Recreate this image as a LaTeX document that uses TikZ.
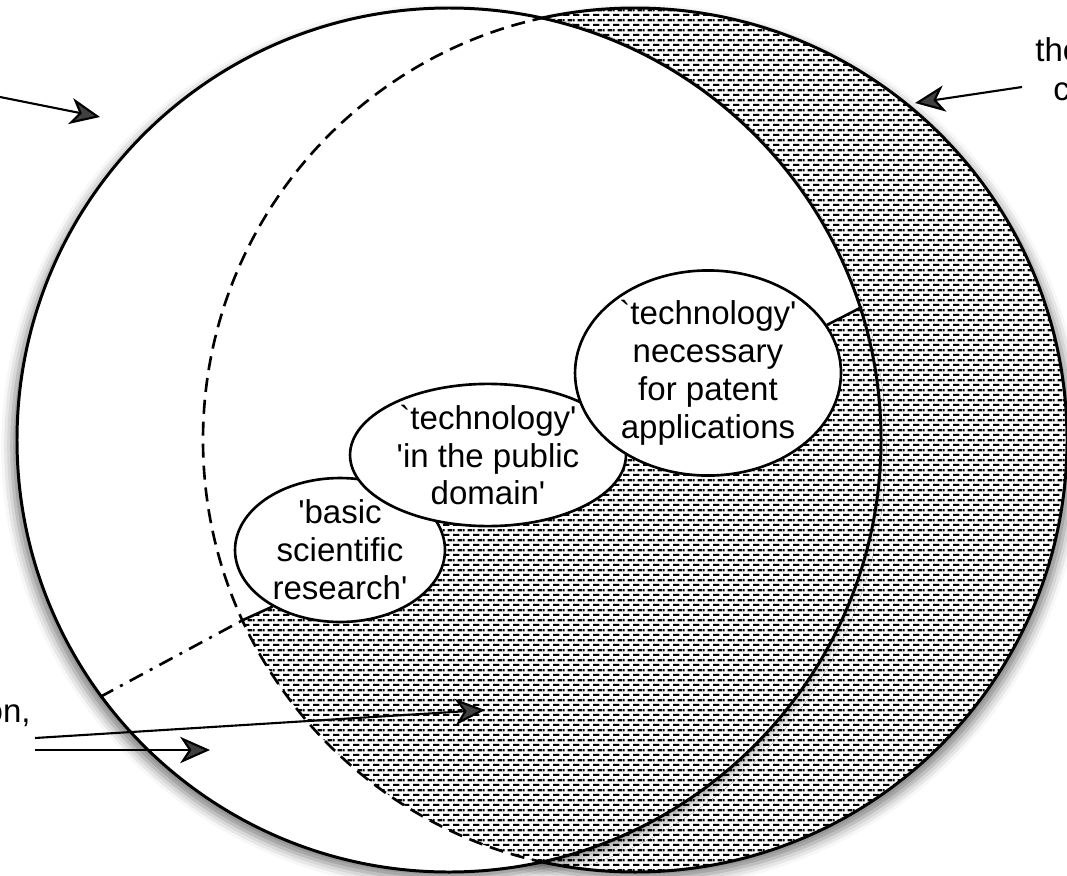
\documentclass[tikz,border=0pt]{standalone}
\usepackage{fontspec}
\setmainfont{Liberation Sans}
\usetikzlibrary{arrows.meta, shapes.geometric, patterns, shadows, shadows.blur}

% trama a mattoni di trattini
\pgfdeclarepatternformonly{dashbricks}{\pgfpointorigin}{\pgfqpoint{5.8pt}{5.8pt}}{\pgfqpoint{5.8pt}{5.8pt}}{
  \pgfpathrectangle{\pgfqpoint{0pt}{0pt}}{\pgfqpoint{3.9pt}{1.35pt}}
  \pgfpathrectangle{\pgfqpoint{2.9pt}{2.9pt}}{\pgfqpoint{2.9pt}{1.35pt}}
  \pgfpathrectangle{\pgfqpoint{0pt}{2.9pt}}{\pgfqpoint{1.0pt}{1.35pt}}
  \pgfusepath{fill}
}

\newcommand{\bq}{\textasciigrave}
\newcommand{\sq}{\textquotesingle}

\tikzset{
  lbl/.style={font=\fontsize{18.8pt}{21.6pt}\selectfont, inner sep=0pt},
  idea/.style={lbl, ellipse, draw, fill=white, line width=1.5pt, align=center},
  pointer/.style={line width=1.2pt, -{Stealth[length=17pt,width=15pt,inset=5pt]}},
  region/.style={line width=1.7pt},
  hidden/.style={line width=1.5pt, dash pattern=on 8pt off 4.5pt},
  dashdot/.style={line width=1.5pt, dash pattern=on 8.5pt off 4.5pt on 1.7pt off 4.5pt},
  softshadow/.style={blur shadow={shadow xshift=#1, shadow yshift=-4pt, shadow blur radius=6pt, shadow opacity=50}}
}

\begin{document}
\begin{tikzpicture}[x=0.02cm, y=-0.02cm]
  \useasboundingbox (0,0) rectangle (1067,875);
  \coordinate (actr) at (449,440);
  \coordinate (bctr) at (635,440);

  % --- cerchio di destra, tutto tratteggiato ---
  \fill[white, softshadow=3pt] (bctr) circle (432);
  \draw[region, pattern=dashbricks] (bctr) circle (432);

  % --- cerchio di sinistra, bianco ---
  \fill[white, softshadow=-3pt] (actr) circle (432);

  % --- parte tratteggiata dentro il cerchio di sinistra ---
  \begin{scope}
    \clip (actr) circle (432);
    \clip (150,675) -- (243,620) -- (273,606) -- (340,550) -- (488,455) -- (708,373)
      -- (830,325) -- (862,307) -- (1100,307) -- (1100,900) -- (150,900) -- cycle;
    \fill[pattern=dashbricks] (bctr) circle (432);
  \end{scope}

  % --- bordo nascosto del cerchio di destra ---
  \begin{scope}
    \clip (actr) circle (432);
    \draw[hidden] (bctr) circle (432);
  \end{scope}
  \draw[region] (actr) circle (432);

  % --- ellissi ---
  \node[idea, minimum width=4.2cm, minimum height=2.88cm] (basic) at (340,550)
    {\sq basic\\scientific\\research\sq};
  \node[idea, minimum width=5.52cm, minimum height=2.8cm] (public) at (488,455)
    {\bq technology\sq\\\sq in the public\\domain\sq};
  \node[idea, minimum width=5.32cm, minimum height=3.8cm] (patent) at (708,373)
    {\bq technology\sq\\necessary\\for patent\\applications};

  % --- linee di confine ---
  \coordinate (ddA) at (100,697);
  \coordinate (ddB) at (243,620);
  \coordinate (edge) at (862,307);
  \draw[dashdot] (ddA) -- (ddB);
  \draw[line width=1.5pt] (ddB) -- (basic.220);
  \draw[line width=1.5pt] (patent.22) -- (edge);

  % --- frecce ---
  \coordinate (tlTail) at (0,97);
  \coordinate (tlTip) at (100,117);
  \coordinate (trTail) at (1022,87);
  \coordinate (trTip) at (915,103);
  \coordinate (blTailA) at (35,738);
  \coordinate (blTipA) at (485,710);
  \coordinate (blTailB) at (35,750);
  \coordinate (blTipB) at (210,750);
  \draw[pointer] (tlTail) -- (tlTip);
  \draw[pointer] (trTail) -- (trTip);
  \draw[pointer] (blTailA) -- (blTipA);
  \draw[pointer] (blTailB) -- (blTipB);

  % --- testi tagliati ai bordi ---
  \node[lbl, anchor=base west] (the) at (1035,62) {the};
  \node[lbl, anchor=base west] (c) at (1053,100) {c};
  \node[lbl, anchor=base east] (on) at (31,722) {on,};
\end{tikzpicture}
\end{document}
